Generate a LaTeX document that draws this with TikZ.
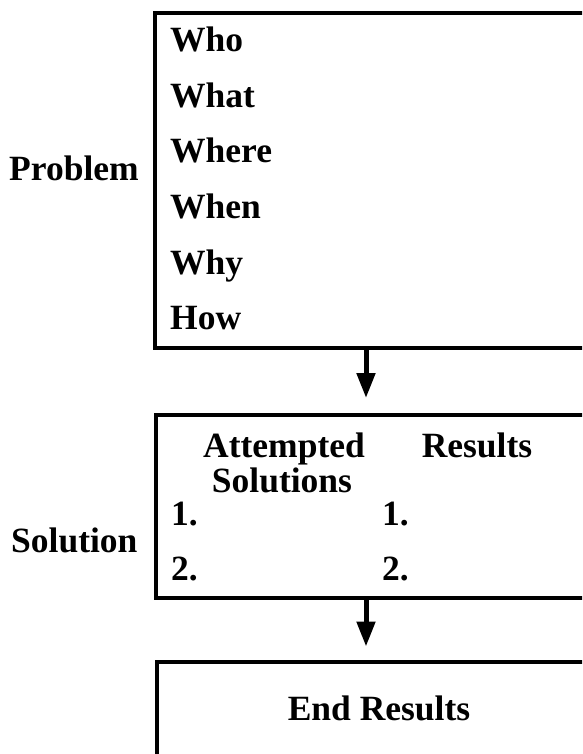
\documentclass[tikz,border=0pt]{standalone}
\usepackage{fontspec}
\setmainfont{Liberation Serif}
\usetikzlibrary{arrows.meta}
\begin{document}
\begin{tikzpicture}[x=1pt,y=-1pt,
  lbl/.style={font=\fontsize{35.5}{35.5}\selectfont\bfseries, inner sep=0pt, anchor=base west},
  clbl/.style={lbl, anchor=base},
  frame/.style={draw, line width=4pt, inner sep=0pt, outer sep=0pt, anchor=north west},
  flow/.style={line width=5pt, -{Triangle[width=18pt,length=25pt]}}]
\useasboundingbox (0,0) rectangle (582,754);
\clip (0,0) rectangle (582,754);
% boxes (extend beyond the right and bottom edges)
\node[frame, minimum width=545pt, minimum height=335pt] (box1) at (155,13) {};
\node[frame, minimum width=545pt, minimum height=183pt] (box2) at (155.5,415) {};
\node[frame, minimum width=545pt, minimum height=200pt] (box3) at (157,661.5) {};
% arrows
\coordinate (ax) at (366,0);
\draw[flow, shorten >=17pt] (box1.south -| ax) -- (box2.north -| ax);
\draw[flow, shorten >=15pt] (box2.south -| ax) -- (box3.north -| ax);
% problem box
\node[lbl] (prob) at (9,180) {Problem};
\node[lbl] (who) at (170,52) {Who};
\node[lbl] (what) at (170,107.5) {What};
\node[lbl] (where) at (170,163) {Where};
\node[lbl] (when) at (170,218.5) {When};
\node[lbl] (why) at (170,274) {Why};
\node[lbl] (how) at (170,329.5) {How};
% solution box
\node[lbl] (sol) at (11,552) {Solution};
\node[clbl] (att) at (284,457) {Attempted};
\node[clbl] (sols) at (282,492) {Solutions};
\node[clbl] (res) at (477,457) {Results};
\node[lbl] (a1) at (171,525) {1.};
\node[lbl] (a2) at (171,580) {2.};
\node[lbl] (r1) at (382,525) {1.};
\node[lbl] (r2) at (382,580) {2.};
% end box
\node[clbl] (endres) at (379,720) {End Results};
\end{tikzpicture}
\end{document}
